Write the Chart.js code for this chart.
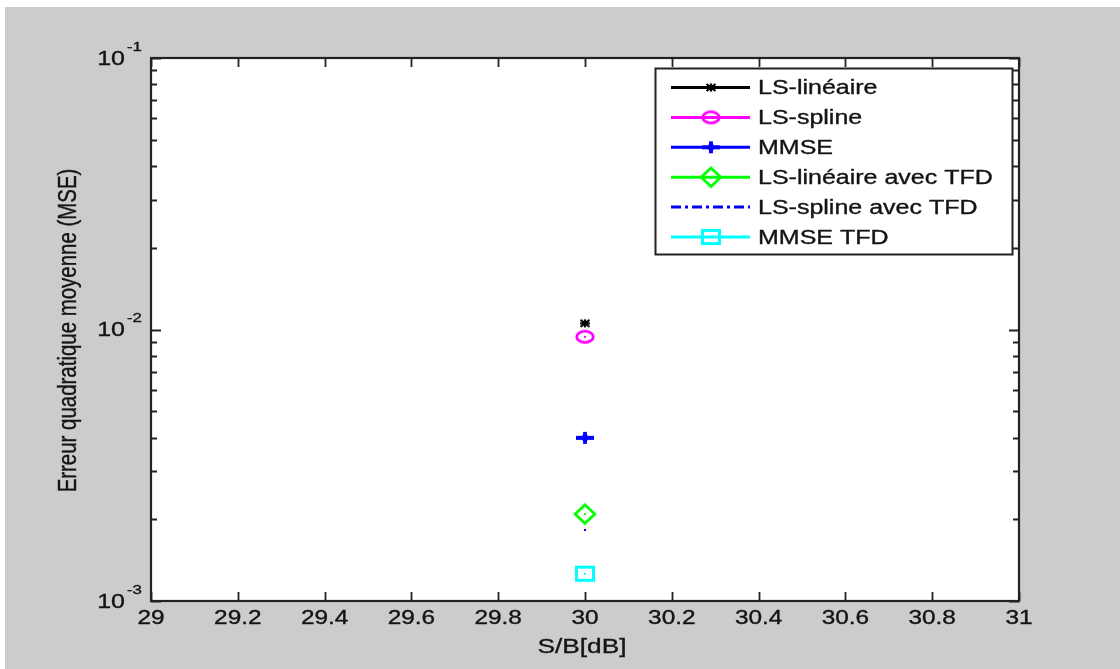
<!DOCTYPE html>
<html>
<head>
<meta charset="utf-8">
<script src="https://cdn.jsdelivr.net/npm/chart.js@4"></script>
<style>
  html, body { margin: 0; padding: 0; background: #fff; }
  canvas { display: block; }
</style>
</head>
<body>
<canvas id="mseChart" width="1120" height="669"></canvas>
<script>
// data (one SNR point, 30 dB)
const snrValues = [30];
const lsLineaire = [0.01054];
const lsSpline = [0.0094];
const mmse = [0.00399];
const lsLineaireTfd = [0.00209];
const lsSplineTfd = [0.00183];
const mmseTfd = [0.00126];

const seriesNames = [
  "LS-linéaire", "LS-spline", "MMSE",
  "LS-linéaire avec TFD", "LS-spline avec TFD", "MMSE TFD"
];

const xTicks = [29, 29.2, 29.4, 29.6, 29.8, 30, 30.2, 30.4, 30.6, 30.8, 31];
const xTickLabels = ["29", "29.2", "29.4", "29.6", "29.8", "30", "30.2", "30.4", "30.6", "30.8", "31"];
const yMajorTicks = [0.001, 0.01, 0.1];
const yMajorExps = ["-3", "-2", "-1"];
const yMinorTicks = [
  0.002, 0.003, 0.004, 0.005, 0.006, 0.007, 0.008, 0.009,
  0.02, 0.03, 0.04, 0.05, 0.06, 0.07, 0.08, 0.09
];

const xTitle = "S/B[dB]";
const yTitle = "Erreur quadratique moyenne (MSE)";

// the source picture is stretched horizontally
const STRETCH = 1.25;
const INK = "#141414";
const FONT = "'Liberation Sans', Arial, sans-serif";

//////////////////////////////
// MATLAB-like markers
//////////////////////////////

function makeMarker(w, h, draw) {
  const c = document.createElement("canvas");
  c.width = w;
  c.height = h;
  const g = c.getContext("2d");
  g.translate(w / 2, h / 2);
  draw(g);
  return c;
}

function centerDot(g, color) {
  g.fillStyle = color;
  g.fillRect(-1, -1, 2, 2);
}

const markers = {
  star: makeMarker(14, 11, g => {
    g.strokeStyle = "#000";
    g.lineWidth = 2.2;
    g.beginPath();
    g.moveTo(-5, 0); g.lineTo(5, 0);
    g.moveTo(0, -4); g.lineTo(0, 4);
    g.moveTo(-4.5, -3.5); g.lineTo(4.5, 3.5);
    g.moveTo(-4.5, 3.5); g.lineTo(4.5, -3.5);
    g.stroke();
  }),
  circle: makeMarker(24, 18, g => {
    g.strokeStyle = "#ff00ff";
    g.lineWidth = 2.8;
    g.beginPath();
    g.ellipse(0, 0, 8.3, 5.6, 0, 0, Math.PI * 2);
    g.stroke();
    centerDot(g, "#ff00ff");
  }),
  plus: makeMarker(22, 16, g => {
    g.strokeStyle = "#0000ff";
    g.lineWidth = 3.8;
    g.beginPath();
    g.moveTo(-9, 0); g.lineTo(9, 0);
    g.moveTo(0, -6); g.lineTo(0, 6);
    g.stroke();
    g.fillStyle = "#0000ff";
    g.beginPath();
    g.moveTo(0, -5); g.lineTo(5, 0); g.lineTo(0, 5); g.lineTo(-5, 0);
    g.closePath();
    g.fill();
  }),
  diamond: makeMarker(26, 24, g => {
    g.strokeStyle = "#00ff00";
    g.lineWidth = 2.8;
    g.beginPath();
    g.moveTo(0, -9.3); g.lineTo(9.8, 0); g.lineTo(0, 9.3); g.lineTo(-9.8, 0);
    g.closePath();
    g.stroke();
    centerDot(g, "#00ff00");
  }),
  dot: makeMarker(2, 2, g => {
    g.fillStyle = "#0000ff";
    g.fillRect(-1, -1, 2, 2);
  }),
  square: makeMarker(24, 20, g => {
    g.strokeStyle = "#00ffff";
    g.lineWidth = 3;
    g.strokeRect(-8.5, -6.6, 17, 13.2);
    centerDot(g, "#00ffff");
  })
};

function points(values) {
  return values.map((v, i) => ({ x: snrValues[i], y: v }));
}

const datasets = [
  { label: seriesNames[0], data: points(lsLineaire), borderColor: "#000000", pointStyle: markers.star, borderDash: [] },
  { label: seriesNames[1], data: points(lsSpline), borderColor: "#ff00ff", pointStyle: markers.circle, borderDash: [] },
  { label: seriesNames[2], data: points(mmse), borderColor: "#0000ff", pointStyle: markers.plus, borderDash: [] },
  { label: seriesNames[3], data: points(lsLineaireTfd), borderColor: "#00ff00", pointStyle: markers.diamond, borderDash: [] },
  { label: seriesNames[4], data: points(lsSplineTfd), borderColor: "#0000ff", pointStyle: markers.dot, borderDash: [10, 4, 3, 4] },
  { label: seriesNames[5], data: points(mmseTfd), borderColor: "#00ffff", pointStyle: markers.square, borderDash: [] }
].map(d => Object.assign(d, {
  showLine: true,
  borderWidth: 2,
  backgroundColor: d.borderColor,
  pointRadius: 6,
  pointHoverRadius: 6
}));

//////////////////////////////
// helpers for text
//////////////////////////////

function wideText(ctx, text, x, y, size, align) {
  ctx.save();
  ctx.translate(x, y);
  ctx.scale(STRETCH, 1);
  ctx.font = size + "px " + FONT;
  ctx.fillStyle = INK;
  ctx.strokeStyle = INK;
  ctx.lineWidth = 0.35;
  ctx.textAlign = align;
  ctx.textBaseline = "middle";
  ctx.fillText(text, 0, 0);
  ctx.strokeText(text, 0, 0);
  ctx.restore();
}

//////////////////////////////
// figure frame, axes and legend
//////////////////////////////

const matlabFigure = {
  id: "matlabFigure",
  beforeDraw(chart) {
    const { ctx, chartArea: a } = chart;
    ctx.save();
    ctx.fillStyle = "#ffffff";
    ctx.fillRect(0, 0, chart.width, chart.height);
    ctx.fillStyle = "#cccccc";
    ctx.fillRect(5, 7, chart.width - 5, chart.height - 7);
    ctx.fillStyle = "#ffffff";
    ctx.fillRect(a.left, a.top, a.right - a.left, a.bottom - a.top);
    ctx.restore();
  },
  afterDatasetsDraw(chart) {
    const { ctx, chartArea: a, scales } = chart;
    const xs = scales.x;
    const ys = scales.y;
    ctx.save();

    // ticks inside the box, on all four sides
    ctx.strokeStyle = "#222";
    ctx.lineWidth = 1.8;
    ctx.beginPath();
    xTicks.forEach(v => {
      const px = Math.round(xs.getPixelForValue(v)) + 0.5;
      ctx.moveTo(px, a.bottom); ctx.lineTo(px, a.bottom - 9);
      ctx.moveTo(px, a.top); ctx.lineTo(px, a.top + 9);
    });
    yMajorTicks.forEach(v => {
      const py = Math.round(ys.getPixelForValue(v)) + 0.5;
      ctx.moveTo(a.left, py); ctx.lineTo(a.left + 10, py);
      ctx.moveTo(a.right, py); ctx.lineTo(a.right - 10, py);
    });
    yMinorTicks.forEach(v => {
      const py = Math.round(ys.getPixelForValue(v)) + 0.5;
      ctx.moveTo(a.left, py); ctx.lineTo(a.left + 6, py);
      ctx.moveTo(a.right, py); ctx.lineTo(a.right - 6, py);
    });
    ctx.stroke();

    ctx.lineWidth = 2.2;
    ctx.strokeRect(a.left, a.top, a.right - a.left, a.bottom - a.top);

    // x tick labels
    xTicks.forEach((v, i) => {
      wideText(ctx, xTickLabels[i], xs.getPixelForValue(v), a.bottom + 18, 19.5, "center");
    });

    // y tick labels as 10^n
    yMajorTicks.forEach((v, i) => {
      const py = ys.getPixelForValue(v);
      wideText(ctx, "10", a.left - 26, py + 1, 20, "right");
      wideText(ctx, yMajorExps[i], a.left - 24, py - 11, 13.5, "left");
    });

    // axis titles
    wideText(ctx, xTitle, (a.left + a.right) / 2 - 3, a.bottom + 46, 21, "center");

    ctx.save();
    ctx.translate(69, (a.top + a.bottom) / 2 + 1);
    ctx.rotate(-Math.PI / 2);
    ctx.scale(1, STRETCH);
    ctx.font = "20px " + FONT;
    const w = ctx.measureText(yTitle).width;
    ctx.font = (20 * 324 / w).toFixed(2) + "px " + FONT;
    ctx.fillStyle = INK;
    ctx.strokeStyle = INK;
    ctx.lineWidth = 0.3;
    ctx.textAlign = "center";
    ctx.textBaseline = "middle";
    ctx.fillText(yTitle, 0, 0);
    ctx.strokeText(yTitle, 0, 0);
    ctx.restore();

    // legend box, upper right
    const lx = 655, ly = 68, lw = 357, lh = 186;
    ctx.fillStyle = "#ffffff";
    ctx.fillRect(lx, ly, lw, lh);
    ctx.strokeStyle = "#222";
    ctx.lineWidth = 2;
    ctx.strokeRect(lx + 0.5, ly + 0.5, lw, lh);

    chart.data.datasets.forEach((d, i) => {
      const ry = 87.5 + i * 29.9;
      ctx.save();
      ctx.strokeStyle = d.borderColor;
      ctx.lineWidth = 3;
      ctx.setLineDash(d.borderDash);
      ctx.beginPath();
      ctx.moveTo(671, ry);
      ctx.lineTo(750, ry);
      ctx.stroke();
      ctx.restore();
      const m = d.pointStyle;
      if (m !== markers.dot) {
        ctx.drawImage(m, 711 - m.width / 2, ry - m.height / 2);
      }
      wideText(ctx, d.label, 758, ry + 1, 20, "left");
    });

    ctx.restore();
  }
};

new Chart(document.getElementById("mseChart"), {
  type: "scatter",
  data: { datasets: datasets },
  options: {
    responsive: false,
    animation: false,
    devicePixelRatio: 1,
    layout: {
      padding: { left: 151, top: 58, right: 101, bottom: 68 }
    },
    plugins: {
      legend: { display: false },
      tooltip: { enabled: false },
      title: { display: false }
    },
    scales: {
      x: {
        type: "linear",
        min: 29,
        max: 31,
        display: false
      },
      y: {
        type: "logarithmic",
        min: 0.001,
        max: 0.1,
        display: false
      }
    }
  },
  plugins: [matlabFigure]
});
</script>
</body>
</html>
